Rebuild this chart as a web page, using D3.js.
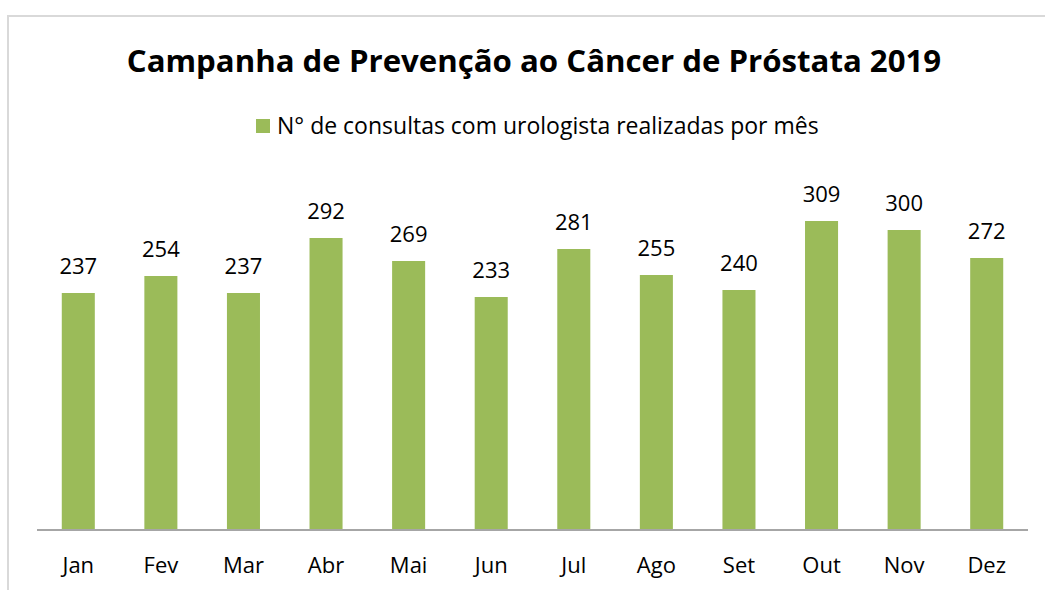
<!DOCTYPE html>
<html>
<head>
<meta charset="utf-8">
<script src="https://cdn.jsdelivr.net/npm/d3@7"></script>
<style>
  html, body { margin: 0; padding: 0; background: #fff; }
  svg { display: block; font-family: "Open Sans", sans-serif; }
</style>
</head>
<body>
<svg id="chart" width="1045" height="590"></svg>
<script>
// Monthly urology consultations, 2019
const months = ["Jan", "Fev", "Mar", "Abr", "Mai", "Jun", "Jul", "Ago", "Set", "Out", "Nov", "Dez"];
const consultas = [237, 254, 237, 292, 269, 233, 281, 255, 240, 309, 300, 272];
const titleText = "Campanha de Prevenção ao Câncer de Próstata 2019";
const seriesName = "N° de consultas com urologista realizadas por mês";

const svg = d3.select("#chart");
const W = 1045, H = 590;
const barColor = "#9bbb59";
const font = "'Open Sans', sans-serif";

// chart frame
svg.append("rect")
  .attr("x", 8).attr("y", 16)
  .attr("width", W + 10).attr("height", H + 10)
  .attr("fill", "#fff")
  .attr("stroke", "#d9d9d9").attr("stroke-width", 2);

const plot = { left: 37, right: 1028, top: 180, bottom: 530 };

const x = d3.scaleBand()
  .domain(months)
  .range([plot.left, plot.right])
  .paddingInner(0.6)
  .paddingOuter(0.3);

const y = d3.scaleLinear()
  .domain([0, 350])
  .range([plot.bottom, plot.top]);

// title
svg.append("text")
  .attr("x", 534).attr("y", 72)
  .attr("text-anchor", "middle")
  .attr("font-weight", "bold")
  .attr("font-size", 31.2)
  .attr("fill", "#000")
  .text(titleText);

// legend
const legend = svg.append("g");
legend.append("rect")
  .attr("x", 256).attr("y", 119)
  .attr("width", 14).attr("height", 14)
  .attr("fill", barColor);
legend.append("text")
  .attr("x", 277).attr("y", 134)
  .attr("font-size", 23)
  .attr("fill", "#000")
  .text(seriesName);

// bars
svg.append("g")
  .selectAll("rect")
  .data(months.map((m, i) => ({ m, v: consultas[i] })))
  .join("rect")
  .attr("x", d => x(d.m))
  .attr("y", d => y(d.v))
  .attr("width", x.bandwidth())
  .attr("height", d => y(0) - y(d.v))
  .attr("fill", barColor);

// value labels
svg.append("g")
  .selectAll("text")
  .data(months.map((m, i) => ({ m, v: consultas[i] })))
  .join("text")
  .attr("x", d => x(d.m) + x.bandwidth() / 2)
  .attr("y", d => y(d.v) - 19)
  .attr("text-anchor", "middle")
  .attr("font-size", 22)
  .attr("fill", "#000")
  .text(d => d.v);

// category axis
const xAxis = svg.append("g")
  .attr("transform", `translate(0,${plot.bottom})`)
  .call(d3.axisBottom(x).tickSize(0).tickPadding(0));
xAxis.select(".domain")
  .attr("stroke", "#a6a6a6").attr("stroke-width", 2)
  .attr("d", `M${plot.left},0H${plot.right}`);
xAxis.selectAll(".tick text")
  .attr("dy", null)
  .attr("y", 43)
  .attr("font-family", font)
  .attr("font-size", 22)
  .attr("fill", "#000");
</script>
</body>
</html>
